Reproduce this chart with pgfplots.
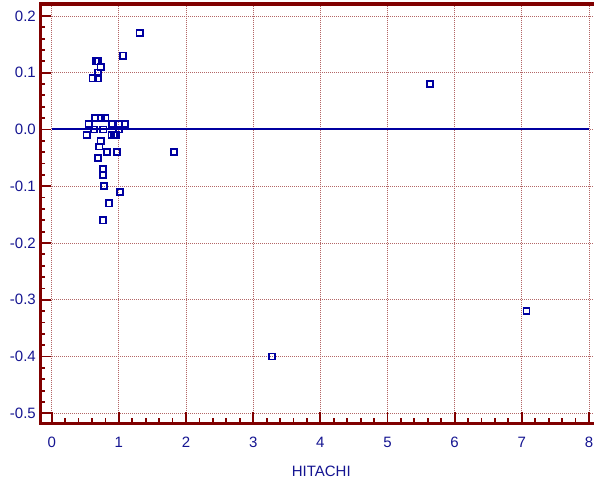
\documentclass[border=0pt]{standalone}
\usepackage{pgfplots}
\pgfplotsset{compat=1.18}
\usepackage{fontspec}
\setmainfont{Liberation Sans}
\definecolor{frame}{RGB}{128,0,0}
\definecolor{navyc}{RGB}{20,20,145}
\definecolor{lineblue}{RGB}{0,0,160}
\begin{document}
\fontsize{15bp}{18bp}\selectfont
\begin{tikzpicture}
\begin{axis}[
  at={(0,0)}, anchor=south west,
  scale only axis, width=553.5bp, height=419.3bp,
  xmin=-0.167, xmax=8.075, ymin=-0.5176, ymax=0.221,
  clip=false,
  axis line style={draw=none},
  xtick={0,1,2,3,4,5,6,7,8},
  xticklabels={0,1,2,3,4,5,6,7,8},
  ytick={-0.5,-0.4,-0.3,-0.2,-0.1,0,0.1,0.2},
  yticklabels={-0.5,-0.4,-0.3,-0.2,-0.1,0.0,0.1,0.2},
  minor x tick num=4, minor y tick num=4,
  tick pos=left, tick align=inside,
  major tick length=11bp, minor tick length=5bp,
  tick style={frame, line width=1.8bp},
  grid=major,
  major grid style={frame!60, line width=0.8bp, dash pattern=on 1bp off 1bp},
  ticklabel style={font=\fontsize{15bp}{18bp}\selectfont, text=navyc},
  xticklabel style={yshift=-9bp},
  yticklabel style={xshift=0.5bp},
  xlabel={HITACHI},
  xlabel style={at={(rel axis cs:0.5,0)}, anchor=center, yshift=-48.4bp, xshift=4bp, font=\fontsize{15bp}{18bp}\selectfont, text=navyc},
]
\addplot[color=lineblue, line width=2.05bp, no marks, forget plot] coordinates {(0,0) (8,0)};
\addplot[only marks, mark=square, mark size=3.1bp, color=lineblue, mark options={draw=lineblue, line width=1.7bp}] coordinates {
(1.31,0.17)
(1.06,0.13)
(0.66,0.12)
(0.69,0.12)
(0.73,0.11)
(0.69,0.10)
(0.61,0.09)
(0.69,0.09)
(0.65,0.02)
(0.73,0.02)
(0.80,0.02)
(0.55,0.01)
(0.90,0.01)
(1.00,0.01)
(1.09,0.01)
(0.63,0.00)
(0.77,0.00)
(1.00,0.00)
(0.52,-0.01)
(0.89,-0.01)
(0.93,-0.01)
(0.955,-0.01)
(0.73,-0.02)
(0.71,-0.03)
(0.82,-0.04)
(0.975,-0.04)
(1.82,-0.04)
(0.69,-0.05)
(0.76,-0.07)
(0.76,-0.08)
(0.78,-0.10)
(1.02,-0.11)
(0.85,-0.13)
(0.76,-0.16)
(5.63,0.08)
(3.28,-0.40)
(7.07,-0.32)
};
\draw[frame, line width=3.2bp] (rel axis cs:1,1) -- (rel axis cs:0,1) -- (rel axis cs:0,0) -- (rel axis cs:1,0);
\end{axis}
\pgfresetboundingbox
\path[use as bounding box] (-40.5bp,-57.7bp) rectangle (553.5bp,423.3bp);
\end{tikzpicture}
\end{document}
